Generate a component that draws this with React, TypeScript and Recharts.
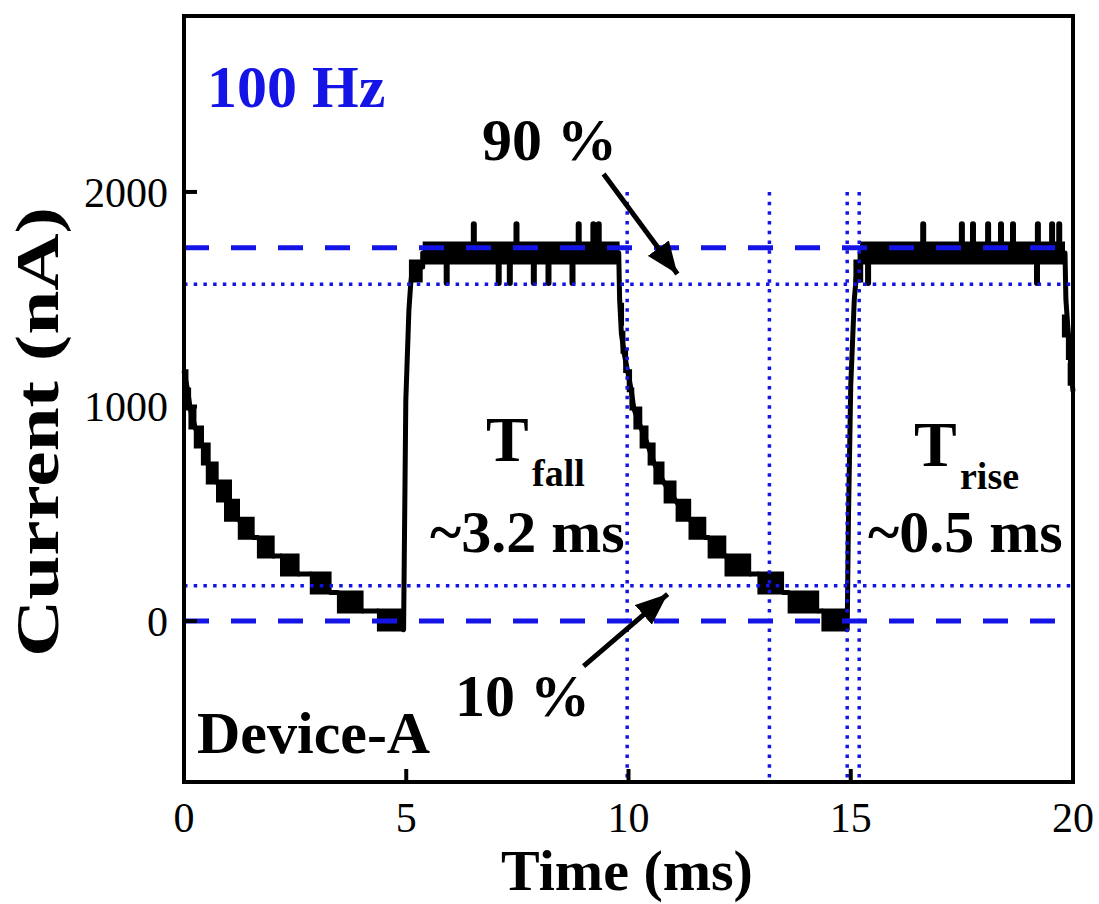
import React from 'react';
import { LineChart, Line, XAxis, YAxis, ReferenceArea } from 'recharts';

const BLUE = '#1414e6';
const FONT = "'Times New Roman', 'Liberation Serif', Times, serif";

// photocurrent trace: time (ms) / current (nA)
const traceTime = [
  0.0, 0.08, 0.14, 0.25, 0.42, 0.55, 0.74, 1.0, 1.22, 1.57, 1.66, 2.02, 2.18, 2.58, 2.85, 3.3, 3.46, 4.02, 4.36,
  4.94, 4.99, 5.06, 5.1, 5.14, 5.37, 5.37, 9.78, 9.8, 9.84, 9.9, 9.98, 10.06, 10.12, 10.28, 10.44, 10.58, 10.79,
  11.06, 11.37, 11.73, 11.8, 12.18, 12.74, 12.92, 13.48, 13.6, 14.27, 14.36, 14.92, 14.95, 15.0, 15.08, 15.14,
  15.21, 15.21, 19.82, 19.84, 19.88, 19.92, 19.96, 20.0,
];
const traceCurrent = [
  1165, 1078, 990, 902, 818, 734, 648, 561, 475, 389, 389, 303, 303, 219, 219, 133, 133, 47, 47,
  -40, 1026, 1450, 1571, 1650, 1650, 1716, 1716, 1500, 1340, 1250, 1165, 1078, 990, 902, 818, 734, 648,
  561, 475, 389, 389, 303, 219, 219, 133, 133, 47, 47, -40, 500, 1100, 1500, 1640,
  1650, 1716, 1716, 1500, 1380, 1280, 1160, 1070,
];

// quantisation blocks of the noisy trace: start (ms), end (ms), level (nA)
const blockStart = [
  0.0, 0.02, 0.1, 0.22, 0.38, 0.49, 0.72, 0.9, 1.21, 1.64, 2.16, 2.83, 3.44, 4.34,
  5.06, 5.37,
  9.79, 9.82, 9.88, 9.96, 10.02, 10.11, 10.25, 10.43, 10.56, 10.79, 11.06, 11.35, 11.78, 12.16, 12.9, 13.58, 14.34,
  15.06, 15.21,
  19.75, 19.84, 19.88,
];
const blockEnd = [
  0.1, 0.16, 0.28, 0.45, 0.6, 0.78, 1.08, 1.26, 1.59, 2.04, 2.6, 3.32, 4.04, 4.94,
  5.37, 9.8,
  9.9, 9.93, 9.99, 10.08, 10.13, 10.31, 10.45, 10.61, 10.81, 11.08, 11.41, 11.75, 12.2, 12.76, 13.5, 14.29, 14.92,
  15.28, 19.82,
  19.89, 19.96, 19.99,
];
const blockLevel = [
  1120, 1035, 946, 858, 779, 690, 606, 517, 433, 345, 261, 177, 89, 5,
  1632, 1716,
  1430, 1300, 1210, 1120, 1035, 946, 858, 779, 690, 601, 517, 433, 345, 261, 177, 89, 5,
  1632, 1716,
  1375, 1270, 1150,
];

// noise spikes on the ON plateaus
const plateauLevel = 1716;
const spikeTime = [
  5.91, 6.52, 7.08, 7.33, 7.48, 7.87, 8.2, 8.74, 8.88, 9.21, 9.33,
  15.39, 16.63, 17.5, 17.75, 18.09, 18.38, 18.65, 19.19, 19.21, 19.53, 19.69,
];
const spikeTip = [
  1576, 1850, 1576, 1576, 1850, 1576, 1576, 1576, 1850, 1850, 1850,
  1576, 1850, 1850, 1850, 1850, 1850, 1850, 1576, 1850, 1850, 1850,
];

// guide levels
const onLevel = 1740;
const offLevel = 0;
const level90 = 1570;
const level10 = 165;
const markerTimes = [9.97, 13.17, 14.92, 15.19];

// annotation arrows
const arrow90Time = [9.44, 11.1];
const arrow90Current = [2084, 1618];
const arrow10Time = [8.99, 10.88];
const arrow10Current = [-210, 126];

const xTicks = [0, 5, 10, 15, 20];
const yTicks = [0, 1000, 2000];

const trace = traceTime.map((t, i) => ({ t, v: traceCurrent[i] }));
const blocks = blockStart.flatMap((s, i) => [
  { t: s, v: blockLevel[i] },
  { t: blockEnd[i], v: blockLevel[i] },
  { t: blockEnd[i], v: null },
]);
const spikes = spikeTime.flatMap((t, i) => [
  { t, v: plateauLevel },
  { t, v: spikeTip[i] },
  { t, v: null },
]);
const hLine = (v: number) => [{ t: 0, v }, { t: 20, v }];
const vLine = (t: number) => [{ t, v: 2000 }, { t, v: -750 }];
const arrow90 = arrow90Time.map((t, i) => ({ t, v: arrow90Current[i] }));
const arrow10 = arrow10Time.map((t, i) => ({ t, v: arrow10Current[i] }));

const tickStyle = { fontFamily: FONT, fontSize: 42, fill: '#000' };
const bold = { fontFamily: FONT, fontWeight: 'bold' as const };

export default function App() {
  return (
    <div style={{ position: 'relative', width: 1099, height: 904 }}>
      <style>{'body{margin:0;overflow:hidden}'}</style>
      <svg width={0} height={0} style={{ position: 'absolute' }}>
        <defs>
          <marker id="arrowHead" markerUnits="userSpaceOnUse" markerWidth={34} markerHeight={26}
            refX={32} refY={13} orient="auto">
            <path d="M0,0 L32,13 L0,26 z" fill="#000" />
          </marker>
        </defs>
      </svg>
      <LineChart width={1099} height={904} margin={{ top: 16, right: 26, bottom: 0, left: 0 }}>
        <XAxis dataKey="t" type="number" domain={[0, 20]} ticks={xTicks} interval={0} height={122}
          axisLine={{ stroke: '#000', strokeWidth: 4 }} tickLine={{ stroke: '#000', strokeWidth: 4 }}
          tickSize={-13} tickMargin={33} tick={tickStyle} />
        <YAxis type="number" domain={[-750, 2820]} ticks={yTicks} interval={0} width={184}
          axisLine={{ stroke: '#000', strokeWidth: 4 }} tickLine={{ stroke: '#000', strokeWidth: 4 }}
          tickSize={-13} tickMargin={29} tick={tickStyle} />
        <ReferenceArea x1={0} x2={20} y1={-750} y2={2820} fill="none" stroke="#000" strokeWidth={4}
          ifOverflow="visible" />

        <Line data={trace} dataKey="v" type="linear" stroke="#000" strokeWidth={5} strokeLinejoin="round"
          dot={false} activeDot={false} isAnimationActive={false} />
        <Line data={blocks} dataKey="v" type="linear" stroke="#000" strokeWidth={23}
          dot={false} activeDot={false} isAnimationActive={false} />
        <Line data={spikes} dataKey="v" type="linear" stroke="#000" strokeWidth={6} strokeLinecap="round"
          dot={false} activeDot={false} isAnimationActive={false} />

        <Line data={hLine(onLevel)} dataKey="v" stroke={BLUE} strokeWidth={5} strokeDasharray="25 22"
          dot={false} activeDot={false} isAnimationActive={false} />
        <Line data={hLine(offLevel)} dataKey="v" stroke={BLUE} strokeWidth={5} strokeDasharray="25 22"
          dot={false} activeDot={false} isAnimationActive={false} />
        <Line data={hLine(level90)} dataKey="v" stroke={BLUE} strokeWidth={3.5} strokeDasharray="3.5 6.2"
          dot={false} activeDot={false} isAnimationActive={false} />
        <Line data={hLine(level10)} dataKey="v" stroke={BLUE} strokeWidth={3.5} strokeDasharray="3.5 6.2"
          dot={false} activeDot={false} isAnimationActive={false} />
        {markerTimes.map((t) => (
          <Line key={t} data={vLine(t)} dataKey="v" stroke={BLUE} strokeWidth={3.5} strokeDasharray="3.5 6.2"
            dot={false} activeDot={false} isAnimationActive={false} />
        ))}

        <Line data={arrow90} dataKey="v" stroke="#000" strokeWidth={5} markerEnd="url(#arrowHead)"
          dot={false} activeDot={false} isAnimationActive={false} />
        <Line data={arrow10} dataKey="v" stroke="#000" strokeWidth={5} markerEnd="url(#arrowHead)"
          dot={false} activeDot={false} isAnimationActive={false} />
      </LineChart>

      <svg width={1099} height={904} style={{ position: 'absolute', left: 0, top: 0, pointerEvents: 'none' }}>
        <text x={207} y={107} fontSize={60} fill={BLUE} {...bold}>100 Hz</text>
        <text x={482} y={160} fontSize={60} fill="#000" {...bold}>90 %</text>
        <text x={455} y={716} fontSize={60} fill="#000" {...bold}>10 %</text>
        <text x={197} y={753} fontSize={60} fill="#000" {...bold}>Device-A</text>

        <text x={486} y={461} fontSize={64} fill="#000" {...bold}>T</text>
        <text x={532} y={486} fontSize={38} fill="#000" {...bold}>fall</text>
        <text x={430} y={552} fontSize={60} fill="#000" {...bold}>~3.2 ms</text>

        <text x={914} y={466} fontSize={64} fill="#000" {...bold}>T</text>
        <text x={960} y={489} fontSize={38} fill="#000" {...bold}>rise</text>
        <text x={868} y={552} fontSize={60} fill="#000" {...bold}>~0.5 ms</text>

        <text x={627} y={890} fontSize={58} fill="#000" textAnchor="middle" {...bold}>Time (ms)</text>
        <text x={58} y={432} fontSize={62} fill="#000" textAnchor="middle" transform="rotate(-90 58 432)"
          textLength={450} lengthAdjust="spacingAndGlyphs" {...bold}>Current (nA)</text>
      </svg>
    </div>
  );
}
